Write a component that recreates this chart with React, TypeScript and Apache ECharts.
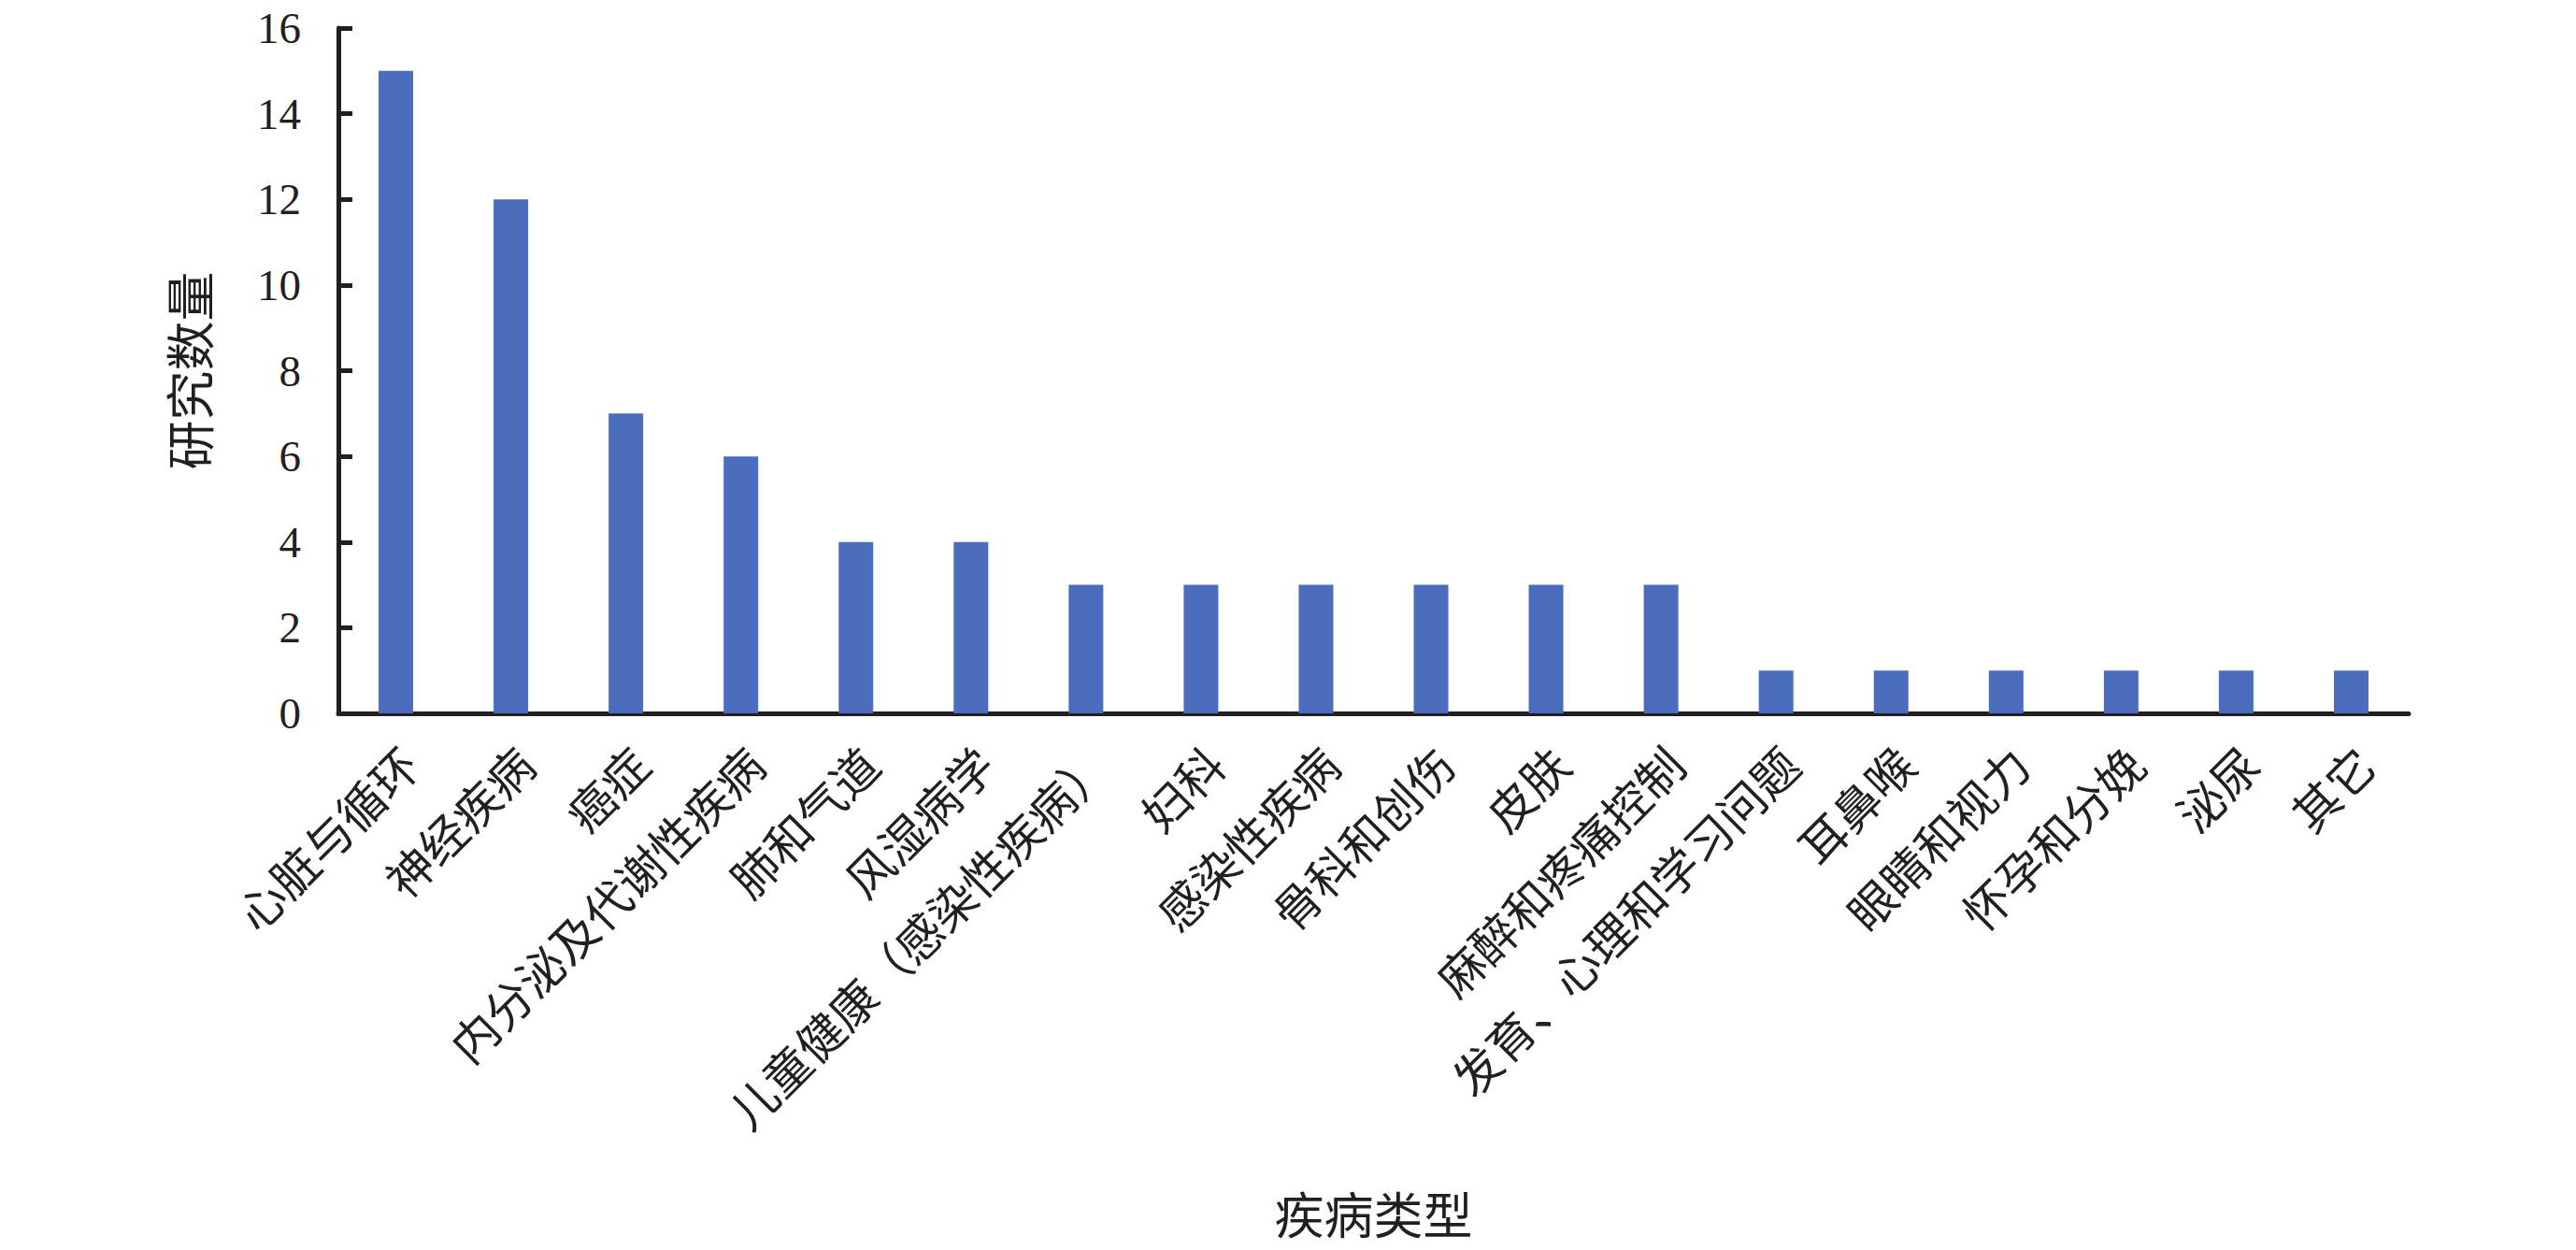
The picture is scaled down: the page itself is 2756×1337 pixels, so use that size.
import React, { useEffect, useRef } from "react";
import * as echarts from "echarts";

const categories = [
  "心脏与循环",
  "神经疾病",
  "癌症",
  "内分泌及代谢性疾病",
  "肺和气道",
  "风湿病学",
  "儿童健康（感染性疾病）",
  "妇科",
  "感染性疾病",
  "骨科和创伤",
  "皮肤",
  "麻醉和疼痛控制",
  "发育、心理和学习问题",
  "耳鼻喉",
  "眼睛和视力",
  "怀孕和分娩",
  "泌尿",
  "其它",
];
const studyCounts = [15, 12, 7, 6, 4, 4, 3, 3, 3, 3, 3, 3, 1, 1, 1, 1, 1, 1];
const yTicks = { min: 0, max: 16, interval: 2 };
const xTitle = "疾病类型";
const yTitle = "研究数量";

const FONT = "'Liberation Serif', 'Noto Sans CJK SC', serif";
const INK = "#231f20";

export default function App() {
  const ref = useRef<HTMLDivElement>(null);
  useEffect(() => {
    if (!ref.current) return;
    const chart = echarts.init(ref.current, null, { renderer: "svg" });
    chart.setOption({
      animation: false,
      backgroundColor: "#ffffff",
      grid: { left: 362, right: 179, top: 30, bottom: 574, containLabel: false },
      xAxis: {
        type: "category",
        data: categories,
        name: xTitle,
        nameLocation: "middle",
        nameGap: 512,
        nameTextStyle: { fontFamily: FONT, fontSize: 53, color: INK },
        axisLine: { lineStyle: { color: INK, width: 5 } },
        axisTick: { show: false },
        axisLabel: {
          interval: 0,
          rotate: 45,
          margin: 30,
          align: "right",
          verticalAlign: "top",
          fontFamily: FONT,
          fontSize: 50,
          color: INK,
        },
      },
      yAxis: {
        type: "value",
        min: yTicks.min,
        max: yTicks.max,
        interval: yTicks.interval,
        name: yTitle,
        nameLocation: "middle",
        nameGap: 130,
        nameRotate: 90,
        nameTextStyle: { fontFamily: FONT, fontSize: 53, color: INK },
        axisLine: { show: true, lineStyle: { color: INK, width: 5 } },
        axisTick: { show: true, inside: true, length: 15, lineStyle: { color: INK, width: 5 } },
        axisLabel: { margin: 40, fontFamily: FONT, fontSize: 47, color: INK },
        splitLine: { show: false },
      },
      series: [
        {
          type: "bar",
          data: studyCounts,
          barWidth: 37,
          itemStyle: { color: "#4a6ebd" },
        },
      ],
    });
    return () => chart.dispose();
  }, []);
  return (
    <div
      ref={ref}
      style={{ position: "fixed", left: 0, top: 0, width: 2756, height: 1337, background: "#fff" }}
    />
  );
}
